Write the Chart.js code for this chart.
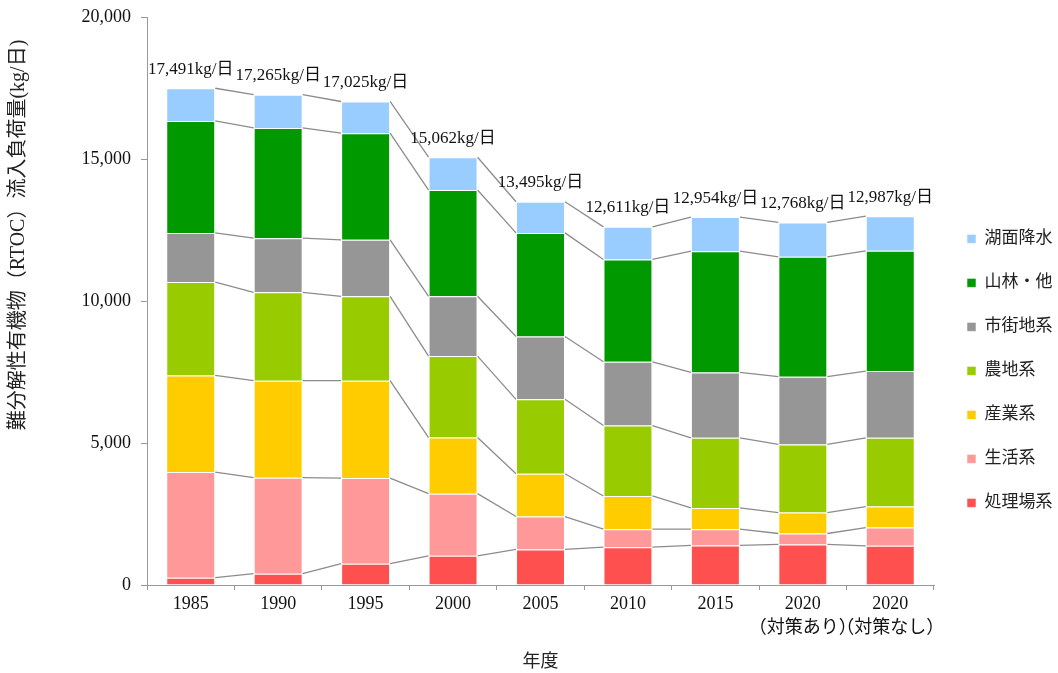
<!DOCTYPE html>
<html>
<head>
<meta charset="utf-8">
<script src="https://cdn.jsdelivr.net/npm/chart.js@4"></script>
<style>
    html, body { margin: 0; padding: 0; background: #fff; }
    #wrap { width: 1058px; height: 673px; }
</style>
</head>
<body>
<div id="wrap"><canvas id="myChart"></canvas></div>
<script>
const categories = ['1985', '1990', '1995', '2000', '2005', '2010', '2015', ['2020', '（対策あり）'], ['2020', '（対策なし）']];
const seriesLabels = ['処理場系', '生活系', '産業系', '農地系', '市街地系', '山林・他', '湖面降水'];
const shorishoValues = [257, 398, 749, 1029, 1252, 1333, 1392, 1427, 1380];
const seikatsuValues = [3720, 3380, 3017, 2188, 1158, 632, 573, 386, 643];
const sangyoValues = [3403, 3415, 3427, 1976, 1508, 1169, 749, 737, 737];
const nochiValues = [3287, 3112, 2972, 2866, 2620, 2480, 2468, 2398, 2422];
const shigaichiValues = [1730, 1906, 1988, 2106, 2211, 2246, 2304, 2386, 2351];
const sanrinValues = [3945, 3883, 3755, 3743, 3649, 3603, 4269, 4223, 4234];
const komenValues = [1149, 1171, 1117, 1154, 1097, 1148, 1199, 1211, 1220];
const totals = [17491, 17265, 17025, 15062, 13495, 12611, 12954, 12768, 12987];
const yTicks = [0, 5000, 10000, 15000, 20000];
const yTitle = '難分解性有機物（RTOC）流入負荷量(kg/日)';
const xTitle = '年度';

const colors = ['#FF5050', '#FF9999', '#FFCC00', '#99CC00', '#969696', '#009900', '#99CCFF'];
const FONT = "'Liberation Serif', 'Noto Sans CJK JP', serif";

// gray lines joining the segment tops of neighbouring bars, plus totals and y title
const extras = {
    id: 'extras',
    beforeDatasetsDraw(chart) {
        const ctx = chart.ctx;
        ctx.save();
        ctx.strokeStyle = '#8c8c8c';
        ctx.lineWidth = 1.3;
        chart.data.datasets.forEach((ds, d) => {
            const bars = chart.getDatasetMeta(d).data;
            for (let i = 0; i < bars.length - 1; i++) {
                const a = bars[i], b = bars[i + 1];
                ctx.beginPath();
                ctx.moveTo(a.x + a.width / 2, a.y);
                ctx.lineTo(b.x - b.width / 2, b.y);
                ctx.stroke();
            }
        });
        ctx.restore();
    },
    afterDraw(chart) {
        const ctx = chart.ctx;
        const top = chart.getDatasetMeta(chart.data.datasets.length - 1).data;
        ctx.save();
        ctx.fillStyle = '#111';
        ctx.font = '17px ' + FONT;
        ctx.textAlign = 'center';
        ctx.textBaseline = 'middle';
        top.forEach((bar, i) => {
            ctx.fillText(totals[i].toLocaleString('en-US') + 'kg/日', bar.x, bar.y - 19);
        });
        // y axis title
        ctx.translate(19, 235);
        ctx.rotate(-Math.PI / 2);
        ctx.fillStyle = '#222';
        ctx.font = '20px ' + FONT;
        ctx.fillText(yTitle, 0, 0);
        ctx.restore();
    }
};

function makeChart() {
    const values = [shorishoValues, seikatsuValues, sangyoValues, nochiValues, shigaichiValues, sanrinValues, komenValues];
    const datasets = seriesLabels.map((label, i) => ({
        label: label,
        data: values[i],
        backgroundColor: colors[i],
        borderColor: 'rgba(255,255,255,0.55)',
        borderWidth: 1,
        barPercentage: 0.56,
        categoryPercentage: 1.0
    }));

    const config = {
        type: 'bar',
        data: { labels: categories, datasets: datasets },
        options: {
            responsive: true,
            maintainAspectRatio: false,
            animation: false,
            layout: { padding: { top: 17, right: 0, bottom: 0, left: 0 } },
            plugins: {
                legend: {
                    position: 'right',
                    align: 'start',
                    reverse: true,
                    maxWidth: 118,
                    title: { display: true, text: '', padding: { top: 172, bottom: 0 } },
                    labels: {
                        boxWidth: 9,
                        boxHeight: 9,
                        padding: 27,
                        color: '#222',
                        font: { size: 17, family: FONT }
                    }
                },
                tooltip: { enabled: false }
            },
            scales: {
                x: {
                    stacked: true,
                    grid: { drawOnChartArea: false, tickLength: 5, color: '#999' },
                    border: { color: '#999' },
                    ticks: {
                        color: '#111',
                        padding: 3,
                        maxRotation: 0,
                        autoSkip: false,
                        font: { size: 18, family: FONT, lineHeight: 1.3 }
                    },
                    title: {
                        display: true,
                        text: xTitle,
                        color: '#222',
                        padding: { top: 0, bottom: 0 },
                        font: { size: 18, family: FONT }
                    },
                    afterFit(scale) { scale.height = 88; }
                },
                y: {
                    stacked: true,
                    min: yTicks[0],
                    max: yTicks[yTicks.length - 1],
                    afterBuildTicks(scale) { scale.ticks = yTicks.map(v => ({ value: v })); },
                    grid: { drawOnChartArea: false, tickLength: 6, color: '#999' },
                    border: { color: '#999' },
                    ticks: {
                        color: '#111',
                        padding: 10,
                        font: { size: 18, family: FONT },
                        callback: v => v.toLocaleString('en-US')
                    },
                    afterFit(scale) {
                        scale.width = 147;
                        scale.paddingTop = 0;
                        scale.paddingBottom = 0;
                    }
                },
                gap: {
                    position: 'right',
                    display: true,
                    grid: { display: false },
                    border: { display: false },
                    ticks: { display: false },
                    afterFit(scale) {
                        scale.width = 6;
                        scale.paddingTop = 0;
                        scale.paddingBottom = 0;
                    }
                }
            }
        },
        plugins: [extras]
    };

    new Chart(document.getElementById('myChart'), config);
}

makeChart();
</script>
</body>
</html>
